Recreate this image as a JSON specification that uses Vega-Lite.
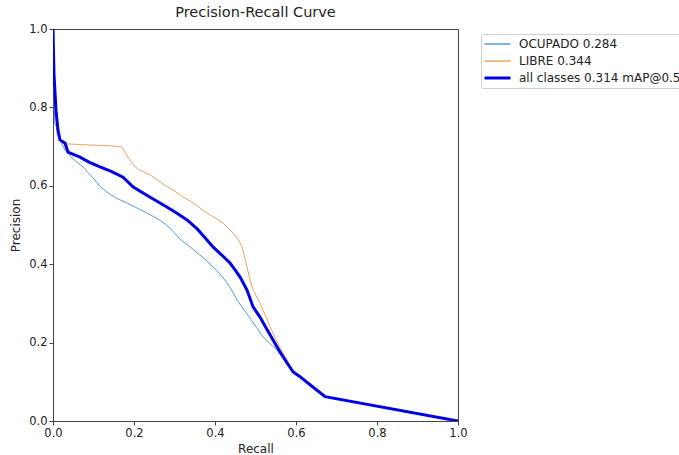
{
  "$schema": "https://vega.github.io/schema/vega-lite/v6.json",
  "width": 405,
  "height": 392,
  "autosize": {"type": "none"},
  "padding": {"left": 53, "top": 29, "right": 221, "bottom": 34},
  "title": {"text": "Precision-Recall Curve", "font": "DejaVu Sans", "fontSize": 14.5, "fontWeight": "normal", "color": "#222", "offset": 3},
  "config": {
    "view": {"stroke": "#444", "strokeWidth": 1},
    "font": "DejaVu Sans",
    "axis": {"grid": false, "domainColor": "#444", "tickColor": "#444", "tickSize": 4, "labelFont": "DejaVu Sans", "labelFontSize": 11.5, "labelColor": "#222", "titleFont": "DejaVu Sans", "titleFontSize": 12, "titleFontWeight": "normal", "titleColor": "#222", "labelPadding": 2, "labelFlush": false, "labelOverlap": false}
  },
  "data": {"values": [
    {"r": 0, "p": 1.0, "c": "OCUPADO 0.284"},
    {"r": 0.0025, "p": 0.87, "c": "OCUPADO 0.284"},
    {"r": 0.004, "p": 0.76, "c": "OCUPADO 0.284"},
    {"r": 0.01, "p": 0.747, "c": "OCUPADO 0.284"},
    {"r": 0.017, "p": 0.717, "c": "OCUPADO 0.284"},
    {"r": 0.03, "p": 0.691, "c": "OCUPADO 0.284"},
    {"r": 0.047, "p": 0.671, "c": "OCUPADO 0.284"},
    {"r": 0.074, "p": 0.648, "c": "OCUPADO 0.284"},
    {"r": 0.099, "p": 0.62, "c": "OCUPADO 0.284"},
    {"r": 0.115, "p": 0.6, "c": "OCUPADO 0.284"},
    {"r": 0.133, "p": 0.584, "c": "OCUPADO 0.284"},
    {"r": 0.155, "p": 0.569, "c": "OCUPADO 0.284"},
    {"r": 0.183, "p": 0.556, "c": "OCUPADO 0.284"},
    {"r": 0.21, "p": 0.542, "c": "OCUPADO 0.284"},
    {"r": 0.24, "p": 0.526, "c": "OCUPADO 0.284"},
    {"r": 0.261, "p": 0.514, "c": "OCUPADO 0.284"},
    {"r": 0.281, "p": 0.5, "c": "OCUPADO 0.284"},
    {"r": 0.298, "p": 0.482, "c": "OCUPADO 0.284"},
    {"r": 0.314, "p": 0.464, "c": "OCUPADO 0.284"},
    {"r": 0.335, "p": 0.447, "c": "OCUPADO 0.284"},
    {"r": 0.356, "p": 0.429, "c": "OCUPADO 0.284"},
    {"r": 0.376, "p": 0.412, "c": "OCUPADO 0.284"},
    {"r": 0.395, "p": 0.393, "c": "OCUPADO 0.284"},
    {"r": 0.414, "p": 0.373, "c": "OCUPADO 0.284"},
    {"r": 0.43, "p": 0.352, "c": "OCUPADO 0.284"},
    {"r": 0.443, "p": 0.331, "c": "OCUPADO 0.284"},
    {"r": 0.454, "p": 0.309, "c": "OCUPADO 0.284"},
    {"r": 0.47, "p": 0.286, "c": "OCUPADO 0.284"},
    {"r": 0.486, "p": 0.263, "c": "OCUPADO 0.284"},
    {"r": 0.503, "p": 0.238, "c": "OCUPADO 0.284"},
    {"r": 0.519, "p": 0.214, "c": "OCUPADO 0.284"},
    {"r": 0.537, "p": 0.196, "c": "OCUPADO 0.284"},
    {"r": 0.553, "p": 0.181, "c": "OCUPADO 0.284"},
    {"r": 0.578, "p": 0.148, "c": "OCUPADO 0.284"},
    {"r": 0.593, "p": 0.125, "c": "OCUPADO 0.284"},
    {"r": 0.61, "p": 0.113, "c": "OCUPADO 0.284"},
    {"r": 0.64, "p": 0.088, "c": "OCUPADO 0.284"},
    {"r": 0.672, "p": 0.062, "c": "OCUPADO 0.284"},
    {"r": 1.0, "p": 0.0, "c": "OCUPADO 0.284"},
    {"r": 0, "p": 1.0, "c": "LIBRE 0.344"},
    {"r": 0.0025, "p": 0.92, "c": "LIBRE 0.344"},
    {"r": 0.005, "p": 0.82, "c": "LIBRE 0.344"},
    {"r": 0.01, "p": 0.73, "c": "LIBRE 0.344"},
    {"r": 0.022, "p": 0.709, "c": "LIBRE 0.344"},
    {"r": 0.032, "p": 0.707, "c": "LIBRE 0.344"},
    {"r": 0.091, "p": 0.704, "c": "LIBRE 0.344"},
    {"r": 0.141, "p": 0.702, "c": "LIBRE 0.344"},
    {"r": 0.17, "p": 0.699, "c": "LIBRE 0.344"},
    {"r": 0.178, "p": 0.685, "c": "LIBRE 0.344"},
    {"r": 0.185, "p": 0.673, "c": "LIBRE 0.344"},
    {"r": 0.198, "p": 0.655, "c": "LIBRE 0.344"},
    {"r": 0.21, "p": 0.642, "c": "LIBRE 0.344"},
    {"r": 0.24, "p": 0.628, "c": "LIBRE 0.344"},
    {"r": 0.268, "p": 0.607, "c": "LIBRE 0.344"},
    {"r": 0.296, "p": 0.589, "c": "LIBRE 0.344"},
    {"r": 0.32, "p": 0.573, "c": "LIBRE 0.344"},
    {"r": 0.346, "p": 0.556, "c": "LIBRE 0.344"},
    {"r": 0.38, "p": 0.531, "c": "LIBRE 0.344"},
    {"r": 0.42, "p": 0.505, "c": "LIBRE 0.344"},
    {"r": 0.444, "p": 0.48, "c": "LIBRE 0.344"},
    {"r": 0.458, "p": 0.462, "c": "LIBRE 0.344"},
    {"r": 0.467, "p": 0.444, "c": "LIBRE 0.344"},
    {"r": 0.473, "p": 0.418, "c": "LIBRE 0.344"},
    {"r": 0.479, "p": 0.393, "c": "LIBRE 0.344"},
    {"r": 0.486, "p": 0.362, "c": "LIBRE 0.344"},
    {"r": 0.494, "p": 0.334, "c": "LIBRE 0.344"},
    {"r": 0.511, "p": 0.301, "c": "LIBRE 0.344"},
    {"r": 0.524, "p": 0.27, "c": "LIBRE 0.344"},
    {"r": 0.536, "p": 0.24, "c": "LIBRE 0.344"},
    {"r": 0.548, "p": 0.214, "c": "LIBRE 0.344"},
    {"r": 0.56, "p": 0.189, "c": "LIBRE 0.344"},
    {"r": 0.578, "p": 0.156, "c": "LIBRE 0.344"},
    {"r": 0.593, "p": 0.125, "c": "LIBRE 0.344"},
    {"r": 0.61, "p": 0.113, "c": "LIBRE 0.344"},
    {"r": 0.64, "p": 0.088, "c": "LIBRE 0.344"},
    {"r": 0.672, "p": 0.062, "c": "LIBRE 0.344"},
    {"r": 1.0, "p": 0.0, "c": "LIBRE 0.344"},
    {"r": 0, "p": 1.0, "c": "all classes 0.314 mAP@0.5"},
    {"r": 0.0025, "p": 0.883, "c": "all classes 0.314 mAP@0.5"},
    {"r": 0.0074, "p": 0.793, "c": "all classes 0.314 mAP@0.5"},
    {"r": 0.0123, "p": 0.742, "c": "all classes 0.314 mAP@0.5"},
    {"r": 0.0173, "p": 0.717, "c": "all classes 0.314 mAP@0.5"},
    {"r": 0.0296, "p": 0.709, "c": "all classes 0.314 mAP@0.5"},
    {"r": 0.037, "p": 0.686, "c": "all classes 0.314 mAP@0.5"},
    {"r": 0.0667, "p": 0.673, "c": "all classes 0.314 mAP@0.5"},
    {"r": 0.09, "p": 0.66, "c": "all classes 0.314 mAP@0.5"},
    {"r": 0.116, "p": 0.648, "c": "all classes 0.314 mAP@0.5"},
    {"r": 0.145, "p": 0.636, "c": "all classes 0.314 mAP@0.5"},
    {"r": 0.173, "p": 0.622, "c": "all classes 0.314 mAP@0.5"},
    {"r": 0.198, "p": 0.597, "c": "all classes 0.314 mAP@0.5"},
    {"r": 0.24, "p": 0.571, "c": "all classes 0.314 mAP@0.5"},
    {"r": 0.281, "p": 0.546, "c": "all classes 0.314 mAP@0.5"},
    {"r": 0.306, "p": 0.53, "c": "all classes 0.314 mAP@0.5"},
    {"r": 0.331, "p": 0.513, "c": "all classes 0.314 mAP@0.5"},
    {"r": 0.356, "p": 0.49, "c": "all classes 0.314 mAP@0.5"},
    {"r": 0.376, "p": 0.467, "c": "all classes 0.314 mAP@0.5"},
    {"r": 0.395, "p": 0.444, "c": "all classes 0.314 mAP@0.5"},
    {"r": 0.416, "p": 0.424, "c": "all classes 0.314 mAP@0.5"},
    {"r": 0.437, "p": 0.403, "c": "all classes 0.314 mAP@0.5"},
    {"r": 0.45, "p": 0.385, "c": "all classes 0.314 mAP@0.5"},
    {"r": 0.462, "p": 0.367, "c": "all classes 0.314 mAP@0.5"},
    {"r": 0.479, "p": 0.334, "c": "all classes 0.314 mAP@0.5"},
    {"r": 0.494, "p": 0.291, "c": "all classes 0.314 mAP@0.5"},
    {"r": 0.511, "p": 0.265, "c": "all classes 0.314 mAP@0.5"},
    {"r": 0.527, "p": 0.236, "c": "all classes 0.314 mAP@0.5"},
    {"r": 0.543, "p": 0.207, "c": "all classes 0.314 mAP@0.5"},
    {"r": 0.56, "p": 0.177, "c": "all classes 0.314 mAP@0.5"},
    {"r": 0.578, "p": 0.148, "c": "all classes 0.314 mAP@0.5"},
    {"r": 0.593, "p": 0.125, "c": "all classes 0.314 mAP@0.5"},
    {"r": 0.61, "p": 0.113, "c": "all classes 0.314 mAP@0.5"},
    {"r": 0.64, "p": 0.088, "c": "all classes 0.314 mAP@0.5"},
    {"r": 0.672, "p": 0.062, "c": "all classes 0.314 mAP@0.5"},
    {"r": 1.0, "p": 0.0, "c": "all classes 0.314 mAP@0.5"}
  ]},
  "mark": {"type": "line", "clip": true},
  "encoding": {
    "x": {"field": "r", "type": "quantitative", "title": "Recall", "scale": {"domain": [0, 1], "nice": false}, "axis": {"values": [0, 0.2, 0.4, 0.6, 0.8, 1.0], "format": ".1f", "titlePadding": 5}},
    "y": {"field": "p", "type": "quantitative", "title": "Precision", "scale": {"domain": [0, 1], "nice": false}, "axis": {"values": [0, 0.2, 0.4, 0.6, 0.8, 1.0], "format": ".1f", "titlePadding": 6}},
    "color": {"field": "c", "type": "nominal", "sort": null, "title": null,
      "scale": {"domain": ["OCUPADO 0.284", "LIBRE 0.344", "all classes 0.314 mAP@0.5"], "range": ["#5a9bcb", "#eba55f", "#0000e6"]},
      "legend": {"orient": "none", "legendX": 428, "legendY": 5, "symbolType": "M-1,0H3", "symbolSize": 169, "symbolStrokeWidth": 1.5, "labelFontSize": 12, "labelFont": "DejaVu Sans", "labelColor": "#222", "labelLimit": 400, "strokeColor": "#d0d0d0", "padding": 4, "cornerRadius": 2, "rowPadding": 5, "labelOffset": 22,
        "encode": {"symbols": {"update": {"strokeWidth": {"signal": "datum.value === 'all classes 0.314 mAP@0.5' ? 3 : 1.5"}}}}}},
    "strokeWidth": {"condition": {"test": "datum.c === 'all classes 0.314 mAP@0.5'", "value": 3}, "value": 1}
  }
}
